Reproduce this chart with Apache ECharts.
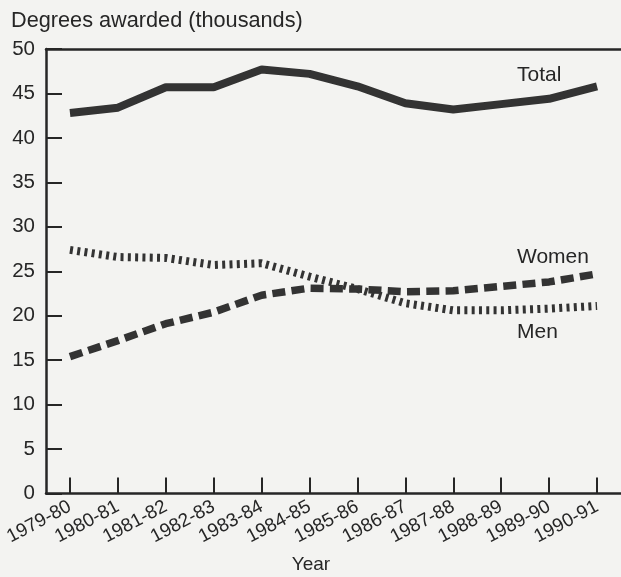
<!DOCTYPE html>
<html>
<head>
<meta charset="utf-8">
<script src="https://cdn.jsdelivr.net/npm/echarts@6/dist/echarts.min.js"></script>
<style>
html,body{margin:0;padding:0;background:#f3f3f1;}
#chart{width:621px;height:577px;}
</style>
</head>
<body>
<div id="chart"></div>
<script>
const categories = ['1979-80','1980-81','1981-82','1982-83','1983-84','1984-85','1985-86','1986-87','1987-88','1988-89','1989-90','1990-91'];
const totalValues = [42.8, 43.4, 45.7, 45.7, 47.7, 47.2, 45.8, 43.9, 43.2, 43.8, 44.4, 45.8];
const womenValues = [15.4, 17.2, 19.1, 20.4, 22.3, 23.1, 23.0, 22.7, 22.8, 23.3, 23.8, 24.7];
const menValues = [27.4, 26.6, 26.5, 25.7, 25.9, 24.4, 23.0, 21.4, 20.6, 20.6, 20.8, 21.1];
const yTicks = {min: 0, max: 50, interval: 5};

const ink = '#262626';
const font = "'Liberation Sans', Arial, Helvetica, sans-serif";

const chart = echarts.init(document.getElementById('chart'), null, {renderer: 'canvas'});
chart.setOption({
  backgroundColor: '#f3f3f1',
  animation: false,
  grid: {left: 46, right: -1, top: 49, bottom: 83.5, containLabel: false},
  xAxis: [
    {
      type: 'category',
      data: categories,
      boundaryGap: true,
      position: 'bottom',
      axisLine: {show: true, lineStyle: {color: ink, width: 2.5}},
      axisTick: {show: true, inside: true, length: 16, alignWithLabel: true, lineStyle: {color: ink, width: 2}},
      axisLabel: {show: true, rotate: 28, margin: 12, fontSize: 19, color: ink, fontFamily: font, interval: 0},
      splitLine: {show: false}
    },
    {
      type: 'category',
      data: categories,
      boundaryGap: true,
      position: 'top',
      axisLine: {show: true, lineStyle: {color: ink, width: 2.5}},
      axisTick: {show: false},
      axisLabel: {show: false},
      splitLine: {show: false}
    }
  ],
  yAxis: {
    type: 'value',
    min: yTicks.min, max: yTicks.max, interval: yTicks.interval,
    axisLine: {show: true, lineStyle: {color: ink, width: 2.5}},
    axisTick: {show: true, inside: true, length: 16, lineStyle: {color: ink, width: 2}},
    axisLabel: {show: true, margin: 11, fontSize: 20.5, color: ink, fontFamily: font},
    splitLine: {show: false}
  },
  series: [
    {
      name: 'Total', type: 'line', data: totalValues, xAxisIndex: 0,
      symbol: 'none', lineStyle: {color: '#333', width: 8, type: 'solid'}
    },
    {
      name: 'Women', type: 'line', data: womenValues, xAxisIndex: 0,
      symbol: 'none', lineStyle: {color: '#333', width: 7.5, type: [13, 6.3]}
    },
    {
      name: 'Men', type: 'line', data: menValues, xAxisIndex: 0,
      symbol: 'none', lineStyle: {color: '#333', width: 8, type: [3, 4.3]}
    }
  ],
  graphic: [
    {type: 'text', left: 11, top: 10, style: {text: 'Degrees awarded (thousands)', font: '21.7px ' + font, fill: ink}},
    {type: 'text', x: 517, y: 75.5, style: {text: 'Total', font: '21px ' + font, fill: ink, verticalAlign: 'middle'}},
    {type: 'text', x: 517, y: 257.5, style: {text: 'Women', font: '21px ' + font, fill: ink, verticalAlign: 'middle'}},
    {type: 'text', x: 517, y: 332.5, style: {text: 'Men', font: '21px ' + font, fill: ink, verticalAlign: 'middle'}},
    {type: 'text', x: 311, y: 565, style: {text: 'Year', font: '19px ' + font, fill: ink, align: 'center', verticalAlign: 'middle'}}
  ]
});
</script>
</body>
</html>
